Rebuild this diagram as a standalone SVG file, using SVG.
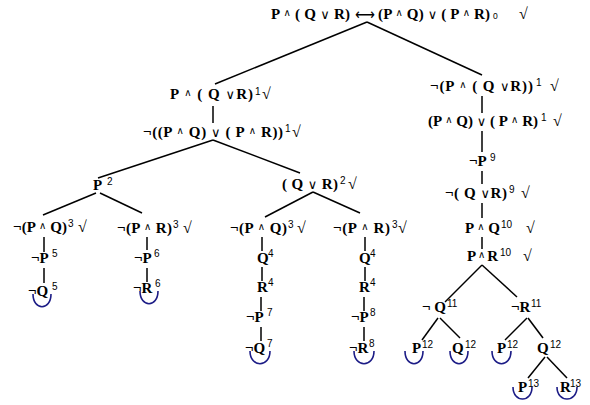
<svg xmlns="http://www.w3.org/2000/svg" width="590" height="405" viewBox="0 0 590 405">
<style>
.f{font-family:"Liberation Serif","DejaVu Serif",serif;font-weight:bold;font-size:15px;fill:#000}
.a{font-size:10px;font-weight:normal;baseline-shift:3px}
.v{font-size:13px;font-weight:normal}
.s{font-family:"Liberation Sans","DejaVu Sans",sans-serif;font-size:10px;fill:#000}
.ck{font-family:"Liberation Serif","DejaVu Serif",serif;font-size:16px;fill:#000}
.ar{font-family:"DejaVu Sans",sans-serif;font-size:16px;fill:#000}
.cn line{stroke:#000;stroke-width:1.5}
.cl{fill:none;stroke:#1c1c86;stroke-width:1.6}
</style>
<rect width="590" height="405" fill="#fff"/>
<g class="cn" id="connectors">
<line x1="367" y1="22" x2="215" y2="84"/>
<line x1="367" y1="22" x2="482" y2="75"/>
<line x1="213" y1="106" x2="213" y2="123"/>
<line x1="213" y1="140" x2="98" y2="178"/>
<line x1="213" y1="140" x2="300" y2="173"/>
<line x1="96" y1="193" x2="43" y2="215"/>
<line x1="100" y1="193" x2="142" y2="213"/>
<line x1="313" y1="192" x2="265" y2="217"/>
<line x1="313" y1="192" x2="360" y2="213"/>
<line x1="44" y1="237" x2="44" y2="252"/>
<line x1="44" y1="268" x2="44" y2="283"/>
<line x1="147" y1="237" x2="147" y2="250"/>
<line x1="147" y1="268" x2="147" y2="282"/>
<line x1="262" y1="237" x2="262" y2="251"/>
<line x1="262" y1="267" x2="262" y2="281"/>
<line x1="261" y1="297" x2="261" y2="311"/>
<line x1="261" y1="327" x2="261" y2="341"/>
<line x1="365" y1="237" x2="365" y2="251"/>
<line x1="365" y1="267" x2="365" y2="281"/>
<line x1="364" y1="297" x2="364" y2="311"/>
<line x1="364" y1="327" x2="364" y2="341"/>
<line x1="482" y1="96" x2="482" y2="113"/>
<line x1="482" y1="131" x2="482" y2="152"/>
<line x1="482" y1="171" x2="482" y2="184"/>
<line x1="482" y1="203" x2="482" y2="218"/>
<line x1="482" y1="237" x2="482" y2="249"/>
<line x1="482" y1="265" x2="445" y2="302"/>
<line x1="482" y1="265" x2="517" y2="297"/>
<line x1="438" y1="318" x2="422" y2="340"/>
<line x1="440" y1="318" x2="460" y2="338"/>
<line x1="527" y1="318" x2="505" y2="340"/>
<line x1="528" y1="318" x2="543" y2="338"/>
<line x1="545" y1="357" x2="528" y2="378"/>
<line x1="547" y1="357" x2="567" y2="378"/>
</g>
<g id="root">
<text class="f" x="271" y="19" textLength="79" lengthAdjust="spacing">P <tspan class="a">∧</tspan> ( Q <tspan class="v">∨</tspan> R)</text>
<text class="ar" x="355" y="20" textLength="20" lengthAdjust="spacingAndGlyphs">⟷</text>
<text class="f" x="378" y="19" textLength="112" lengthAdjust="spacing">(P <tspan class="a">∧</tspan>  Q) <tspan class="v">∨</tspan> ( P <tspan class="a">∧</tspan> R)</text>
<text class="s" x="493" y="19" style="font-size:8.5px">0</text>
<text class="ck" x="519" y="19">√</text>
</g>
<g id="n1">
<text class="f" x="170" y="99" textLength="83" lengthAdjust="spacing">P <tspan class="a">∧</tspan> ( Q <tspan class="v">∨</tspan>R)</text>
<text class="s" x="255" y="95">1</text><text class="ck" x="262" y="99">√</text>
</g>
<g id="n2">
<text class="f" x="143" y="137" textLength="140" lengthAdjust="spacing">¬((P <tspan class="a">∧</tspan> Q) <tspan class="v">∨</tspan> ( P <tspan class="a">∧</tspan> R))</text>
<text class="s" x="285" y="132">1</text><text class="ck" x="292" y="137">√</text>
</g>
<g id="n3"><text class="f" x="93" y="190">P</text><text class="s" x="107" y="185">2</text></g>
<g id="n4">
<text class="f" x="282" y="189" textLength="56" lengthAdjust="spacing">( Q <tspan class="v">∨</tspan> R)</text>
<text class="s" x="340" y="184">2</text><text class="ck" x="348" y="189">√</text>
</g>
<g id="n5">
<text class="f" x="13" y="232" textLength="54" lengthAdjust="spacing">¬(P <tspan class="a">∧</tspan> Q)</text>
<text class="s" x="68" y="227">3</text><text class="ck" x="78" y="232">√</text>
</g>
<g id="n6"><text class="f" x="31" y="263">¬P</text><text class="s" x="52" y="257">5</text></g>
<g id="n7"><text class="f" x="28" y="296">¬Q</text><text class="s" x="52" y="290">5</text>
<path class="cl" d="M33,294 C33,311 51,311 51,294"/></g>
<g id="n8">
<text class="f" x="117" y="233" textLength="55" lengthAdjust="spacing">¬(P <tspan class="a">∧</tspan> R)</text>
<text class="s" x="173" y="228">3</text><text class="ck" x="183" y="233">√</text>
</g>
<g id="n9"><text class="f" x="134" y="263">¬P</text><text class="s" x="154" y="257">6</text></g>
<g id="n10"><text class="f" x="133" y="293">¬R</text><text class="s" x="155" y="287">6</text>
<path class="cl" d="M140,291 C140,308 158,308 158,291"/></g>
<g id="n11">
<text class="f" x="230" y="233" textLength="57" lengthAdjust="spacing">¬(P <tspan class="a">∧</tspan> Q)</text>
<text class="s" x="288" y="228">3</text><text class="ck" x="297" y="233">√</text>
</g>
<g id="n12"><text class="f" x="257" y="263">Q</text><text class="s" x="268" y="257">4</text></g>
<g id="n13"><text class="f" x="257" y="292">R</text><text class="s" x="268" y="286">4</text></g>
<g id="n14"><text class="f" x="246" y="322">¬P</text><text class="s" x="267" y="316">7</text></g>
<g id="n15"><text class="f" x="245" y="353">¬Q</text><text class="s" x="267" y="347">7</text>
<path class="cl" d="M250,351 C250,368 270,368 270,351"/></g>
<g id="n16">
<text class="f" x="333" y="233" textLength="57" lengthAdjust="spacing">¬(P <tspan class="a">∧</tspan> R)</text>
<text class="s" x="392" y="228">3</text><text class="ck" x="398" y="233">√</text>
</g>
<g id="n17"><text class="f" x="359" y="263">Q</text><text class="s" x="370" y="257">4</text></g>
<g id="n18"><text class="f" x="359" y="292">R</text><text class="s" x="370" y="286">4</text></g>
<g id="n19"><text class="f" x="351" y="322">¬P</text><text class="s" x="370" y="316">8</text></g>
<g id="n20"><text class="f" x="349" y="353">¬R</text><text class="s" x="369" y="347">8</text>
<path class="cl" d="M354,351 C354,368 374,368 374,351"/></g>
<g id="n21">
<text class="f" x="430" y="91" textLength="103" lengthAdjust="spacing">¬(P <tspan class="a">∧</tspan> ( Q <tspan class="v">∨</tspan>R))</text>
<text class="s" x="536" y="86">1</text><text class="ck" x="550" y="91">√</text>
</g>
<g id="n22">
<text class="f" x="428" y="126" textLength="110" lengthAdjust="spacing">(P <tspan class="a">∧</tspan> Q) <tspan class="v">∨</tspan> ( P <tspan class="a">∧</tspan> R)</text>
<text class="s" x="541" y="121">1</text><text class="ck" x="553" y="126">√</text>
</g>
<g id="n23"><text class="f" x="469" y="166">¬P</text><text class="s" x="490" y="161">9</text></g>
<g id="n24">
<text class="f" x="445" y="198" textLength="62" lengthAdjust="spacing">¬( Q <tspan class="v">∨</tspan>R)</text>
<text class="s" x="509" y="193">9</text><text class="ck" x="521" y="198">√</text>
</g>
<g id="n25">
<text class="f" x="465" y="233" textLength="35" lengthAdjust="spacing">P <tspan class="a">∧</tspan> Q</text>
<text class="s" x="501" y="228">10</text><text class="ck" x="526" y="233">√</text>
</g>
<g id="n26">
<text class="f" x="467" y="261" textLength="31" lengthAdjust="spacing">P<tspan class="a">∧</tspan>R</text>
<text class="s" x="500" y="256">10</text><text class="ck" x="523" y="261">√</text>
</g>
<g id="n27"><text class="f" x="422" y="312">¬ Q</text><text class="s" x="447" y="307">11</text></g>
<g id="n28"><text class="f" x="511" y="312">¬R</text><text class="s" x="531" y="307">11</text></g>
<g id="n29"><text class="f" x="412" y="353">P</text><text class="s" x="422" y="348">12</text>
<path class="cl" d="M405,351 C405,368 423,368 423,351"/></g>
<g id="n30"><text class="f" x="452" y="353">Q</text><text class="s" x="465" y="348">12</text>
<path class="cl" d="M450,351 C450,368 468,368 468,351"/></g>
<g id="n31"><text class="f" x="497" y="353">P</text><text class="s" x="507" y="348">12</text>
<path class="cl" d="M492,351 C492,368 511,368 511,351"/></g>
<g id="n32"><text class="f" x="537" y="353">Q</text><text class="s" x="550" y="348">12</text></g>
<g id="n33"><text class="f" x="518" y="392">P</text><text class="s" x="528" y="387">13</text>
<path class="cl" d="M513,387 C513,403 532,403 532,387"/></g>
<g id="n34"><text class="f" x="560" y="392">R</text><text class="s" x="570" y="387">13</text>
<path class="cl" d="M557,387 C557,403 577,403 577,387"/></g>
</svg>
